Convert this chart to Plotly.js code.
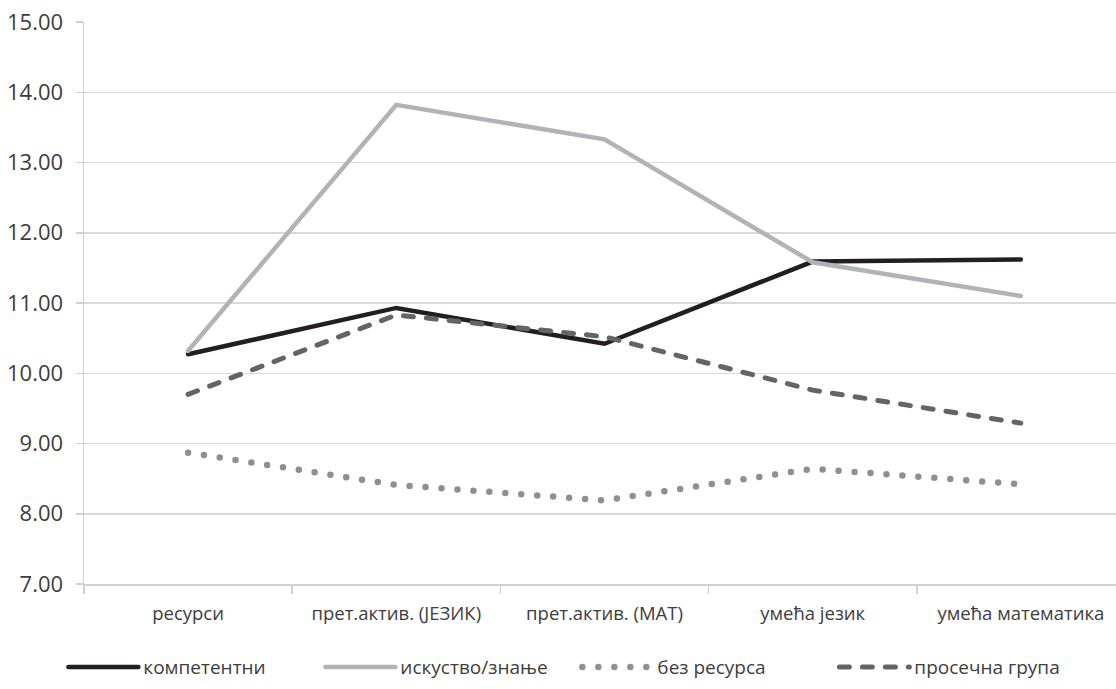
<!DOCTYPE html>
<html>
<head>
<meta charset="utf-8">
<script src="https://cdn.plot.ly/plotly-3.0.1.min.js"></script>
<style>
html,body{margin:0;padding:0;background:#fff;}
#chart{width:1116px;height:689px;}
.scatterlayer path.js-line, .legend path.js-line { stroke-linecap: round !important; }
</style>
</head>
<body>
<div id="chart"></div>
<script>
const categories = ["ресурси", "прет.актив. (ЈЕЗИК)", "прет.актив. (МАТ)", "умећа језик", "умећа математика"];
const kompetentni = [10.27, 10.93, 10.42, 11.59, 11.62];
const iskustvo = [10.32, 13.82, 13.33, 11.58, 11.10];
const bezResursa = [8.87, 8.41, 8.19, 8.64, 8.42];
const prosecna = [9.70, 10.83, 10.52, 9.76, 9.29];
const seriesNames = ["компетентни", "искуство/знање", "без ресурса", "просечна група"];

const FONT = "Open Sans, Noto Sans, sans-serif";
const TXT = "#3d3d3d";

const traces = [
  {x: categories, y: kompetentni, name: seriesNames[0], type: "scatter", mode: "lines",
   line: {color: "#231f20", width: 4.5}},
  {x: categories, y: iskustvo, name: seriesNames[1], type: "scatter", mode: "lines",
   line: {color: "#b1b3b6", width: 4.5}},
  {x: categories, y: bezResursa, name: seriesNames[2], type: "scatter", mode: "lines",
   line: {color: "#8e8f92", width: 6.5, dash: "0px,16px"}},
  {x: categories, y: prosecna, name: seriesNames[3], type: "scatter", mode: "lines",
   line: {color: "#646466", width: 5, dash: "10px,13px"}}
];

const layout = {
  width: 1116, height: 689,
  margin: {l: 84, r: 0, t: 21.5, b: 105, pad: 0},
  paper_bgcolor: "#fff", plot_bgcolor: "#fff",
  font: {family: FONT, size: 18.5, color: TXT},
  showlegend: true,
  legend: {orientation: "h", x: -0.02, xanchor: "left", y: -0.148, yanchor: "middle",
           font: {family: FONT, size: 19, color: TXT}, itemwidth: 70, traceorder: "normal",
           entrywidth: 172, entrywidthmode: "pixels",
           bgcolor: "rgba(0,0,0,0)"},
  xaxis: {type: "category", range: [-0.5, 4.457], showgrid: false, zeroline: false,
          showline: true, linecolor: "#d0d0d0", linewidth: 1.5,
          ticks: "outside", ticklen: 8, tickcolor: "#d0d0d0", tickwidth: 1.5, tickson: "boundaries",
          ticklabelstandoff: 12,
          tickfont: {family: FONT, size: 18.5, color: TXT}, fixedrange: true},
  yaxis: {range: [7, 15], dtick: 1, tick0: 7, tickformat: ".2f", showgrid: true,
          gridcolor: "#d9d9d9", gridwidth: 1.5, zeroline: false,
          showline: true, linecolor: "#d0d0d0", linewidth: 1.5,
          ticks: "outside", ticklen: 7, tickcolor: "#d0d0d0", tickwidth: 1.5,
          ticklabelstandoff: 8,
          tickfont: {family: FONT, size: 22, color: TXT}, fixedrange: true}
};

Plotly.newPlot("chart", traces, layout, {displayModeBar: false, staticPlot: true});
</script>
</body>
</html>
